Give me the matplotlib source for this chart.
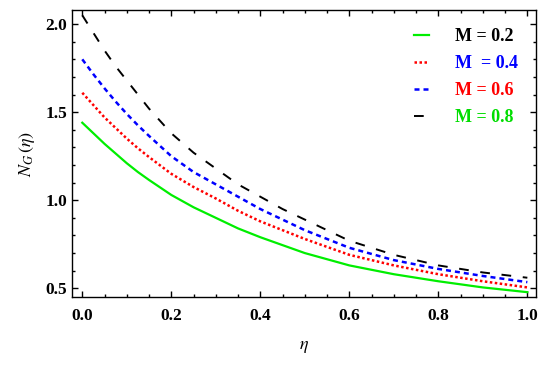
import matplotlib
matplotlib.use('Agg')
import matplotlib.pyplot as plt
from matplotlib.ticker import MultipleLocator

eta = [0.0, 0.025, 0.05, 0.075, 0.1, 0.125, 0.15, 0.2, 0.25, 0.3, 0.35, 0.4, 0.45, 0.5, 0.6, 0.7, 0.8, 0.9, 1.0]

ng_02 = [1.44, 1.38, 1.32, 1.265, 1.21, 1.16, 1.115, 1.03, 0.96, 0.90, 0.84, 0.79, 0.745, 0.70, 0.63, 0.58, 0.54, 0.505, 0.478]
ng_04 = [1.61, 1.54, 1.47, 1.41, 1.35, 1.295, 1.245, 1.15, 1.075, 1.01, 0.94, 0.88, 0.83, 0.78, 0.69, 0.63, 0.58, 0.54, 0.505]
ng_06 = [1.80, 1.715, 1.635, 1.56, 1.49, 1.425, 1.365, 1.25, 1.16, 1.09, 1.02, 0.95, 0.89, 0.83, 0.73, 0.66, 0.61, 0.57, 0.535]
ng_08 = [2.05, 1.95, 1.85, 1.76, 1.68, 1.60, 1.52, 1.38, 1.27, 1.18, 1.09, 1.02, 0.95, 0.89, 0.77, 0.69, 0.63, 0.59, 0.56]

labels = ["M = 0.2", "M  = 0.4", "M = 0.6", "M = 0.8"]
label_colors = ["black", "blue", "red", "#00dd00"]

plt.rcParams['font.family'] = ['Liberation Serif', 'DejaVu Serif']
plt.rcParams['mathtext.fontset'] = 'stix'

fig = plt.figure(figsize=(5.5, 3.7), dpi=100)
ax = fig.add_axes([0.131, 0.197, 0.844, 0.776])

ax.plot(eta, ng_02, color='#00ee00', lw=1.6, label=labels[0])
ax.plot(eta, ng_04, color='red', lw=1.8, dashes=(1.0, 1.0), label=labels[1])
ax.plot(eta, ng_06, color='blue', lw=1.8, dashes=(2.0, 1.6), label=labels[2])
ax.plot(eta, ng_08, color='black', lw=1.4, dashes=(5, 6), label=labels[3])

ax.set_xlim(-0.023, 1.02)
ax.set_ylim(0.45, 2.08)
ax.xaxis.set_major_locator(MultipleLocator(0.2))
ax.xaxis.set_minor_locator(MultipleLocator(0.05))
ax.yaxis.set_major_locator(MultipleLocator(0.5))
ax.yaxis.set_minor_locator(MultipleLocator(0.1))
ax.tick_params(which='both', direction='in', top=True, right=True, width=1)
ax.tick_params(which='major', length=4, labelsize=12.5)
ax.tick_params(which='minor', length=2.5)
ax.tick_params(axis='x', which='both', pad=8)
for lbl in ax.get_xticklabels() + ax.get_yticklabels():
    lbl.set_fontweight('bold')
for s in ax.spines.values():
    s.set_linewidth(1)

ax.set_xlabel(r'$\eta$', fontsize=13, labelpad=10)
ax.set_ylabel(r'$N_G\,(\eta)$', fontsize=13, labelpad=6)

leg = ax.legend(loc='upper right', frameon=False, handlelength=0.85,
                handletextpad=1.4, labelspacing=0.55, bbox_to_anchor=(0.995, 0.993),
                prop={'weight': 'bold', 'size': 13})
for t, c in zip(leg.get_texts(), label_colors):
    t.set_color(c)

fig.savefig('out.png', dpi=100)
